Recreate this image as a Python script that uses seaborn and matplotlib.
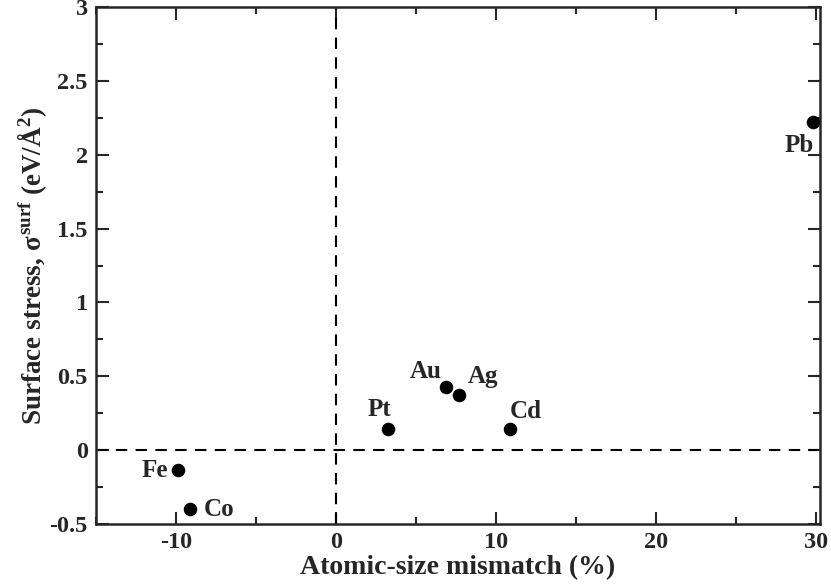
import pandas as pd
import seaborn as sns
import matplotlib
matplotlib.use("Agg")
import matplotlib.pyplot as plt
from matplotlib.ticker import MultipleLocator

# datos
elementos = ["Fe", "Co", "Pt", "Au", "Ag", "Cd", "Pb"]
mismatch = [-9.9, -9.1, 3.25, 6.9, 7.7, 10.9, 29.8]
stress = [-0.136, -0.395, 0.143, 0.43, 0.374, 0.143, 2.22]

df = pd.DataFrame({"elemento": elementos, "mismatch": mismatch, "stress": stress})

# desplazamiento de cada etiqueta (pixeles) y alineacion
offsets = {
    "Fe": (-10, 0, "right"),
    "Co": (13, -1, "left"),
    "Pt": (-8, 20, "center"),
    "Au": (-21, 15, "center"),
    "Ag": (24, 18, "center"),
    "Cd": (15, 18, "center"),
    "Pb": (-13, -23, "center"),
}

sns.set_style("ticks")
plt.rcParams["font.family"] = ["Liberation Serif", "DejaVu Serif"]
plt.rcParams["font.weight"] = "bold"
plt.rcParams["mathtext.fontset"] = "custom"
plt.rcParams["mathtext.rm"] = "Liberation Serif:bold"
plt.rcParams["mathtext.it"] = "Liberation Serif:bold"
plt.rcParams["mathtext.bf"] = "Liberation Serif:bold"

fig = plt.figure(figsize=(8.31, 5.84), dpi=100)
ax = fig.add_axes([0.1155, 0.1027, 0.871, 0.8853])

ax.axhline(0, color="black", ls="--", lw=1.5, dashes=(5.5, 4), zorder=1)
ax.axvline(0, color="black", ls="--", lw=1.5, dashes=(5.5, 4), zorder=1)

sns.scatterplot(data=df, x="mismatch", y="stress", color="black", s=95,
                edgecolor="black", linewidth=0, ax=ax, zorder=3)

for _, r in df.iterrows():
    dx, dy, ha = offsets[r["elemento"]]
    ax.annotate(r["elemento"], (r["mismatch"], r["stress"]),
                xytext=(dx, dy), textcoords="offset pixels",
                ha=ha, va="center", fontsize=18, fontweight="bold")

ax.set_xlim(-15, 30.25)
ax.set_ylim(-0.5, 3)
ax.xaxis.set_minor_locator(MultipleLocator(5))
ax.yaxis.set_minor_locator(MultipleLocator(0.25))
ax.set_yticks([-0.5, 0, 0.5, 1, 1.5, 2, 2.5, 3])
ax.set_yticklabels(["-0.5", "0", "0.5", "1", "1.5", "2", "2.5", "3"])
ax.set_xticks([-10, 0, 10, 20, 30])
ax.set_xticklabels(["-10", "0", "10", "20", "30"])

ax.tick_params(which="both", direction="in", top=True, right=True,
               width=1.5, labelsize=17.5, pad=6)
ax.tick_params(which="major", length=9)
ax.tick_params(which="minor", length=5)
for s in ax.spines.values():
    s.set_linewidth(1.8)

ax.set_xlabel("Atomic-size mismatch (%)", fontsize=20, fontweight="bold", labelpad=1)
ax.set_ylabel(r"Surface stress, $\sigma^{\mathrm{surf}}$ (eV/$\mathrm{\AA}^2$)",
              fontsize=19.5, fontweight="bold", labelpad=0)

fig.savefig("out.png", dpi=100)
